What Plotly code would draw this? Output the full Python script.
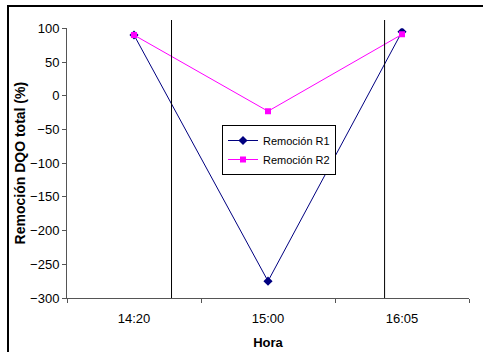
import plotly.graph_objects as go

# Sampling times and DQO removal (%) for each reactor
horas = ["14:20", "15:00", "16:05"]
remocion_r1 = [90, -275, 95]
remocion_r2 = [90, -23, 91]

# Positions (in category units) of the vertical separator lines
separadores = [0.28, 1.87]

# y-axis scale
y_min, y_max = -300, 100
y_ticks = [-300, -250, -200, -150, -100, -50, 0, 50, 100]

W, H = 483, 352
m_l, m_r, m_t, m_b = 67, 14, 20, 54
plot_h = H - m_t - m_b
dom_top = (plot_h - 8.3) / plot_h          # main y axis stops below the top of the frame
y2_top = y_min + (y_max - y_min) / dom_top  # helper axis spans the full height

fig = go.Figure()

fig.add_trace(go.Scatter(
    x=horas, y=remocion_r1, name="Remoción R1", mode="lines+markers",
    line=dict(color="#000080", width=1),
    marker=dict(symbol="diamond", size=7, color="#000080"),
    xaxis="x", yaxis="y",
))
fig.add_trace(go.Scatter(
    x=horas, y=remocion_r2, name="Remoción R2", mode="lines+markers",
    line=dict(color="#FF00FF", width=1),
    marker=dict(symbol="square", size=6, color="#FF00FF"),
    xaxis="x", yaxis="y",
))

# Vertical separators drawn on a full-height helper subplot
sep_x, sep_y = [], []
for s in separadores:
    sep_x += [s, s, None]
    sep_y += [y_min, y2_top, None]
fig.add_trace(go.Scatter(
    x=sep_x, y=sep_y, mode="lines", showlegend=False, hoverinfo="skip",
    line=dict(color="black", width=1),
    xaxis="x2", yaxis="y2",
))

font = dict(family="Arial, Liberation Sans, sans-serif", size=13, color="black")

fig.update_layout(
    width=W, height=H,
    margin=dict(l=m_l, r=m_r, t=m_t, b=m_b),
    paper_bgcolor="white",
    plot_bgcolor="rgba(0,0,0,0)",
    font=font,
    showlegend=True,
    legend=dict(
        x=(222 - m_l) / (W - m_l - m_r), y=(H - m_b - 125) / plot_h,
        xanchor="left", yanchor="top",
        bgcolor="white", bordercolor="black", borderwidth=1,
        font=dict(size=11), itemwidth=30,
        tracegroupgap=0,
    ),
    xaxis=dict(
        type="category", domain=[0, 1], anchor="y",
        range=[-0.5, 2.5], tickson="boundaries",
        ticks="outside", ticklen=4, tickcolor="#555555",
        showline=True, linecolor="#555555", linewidth=1,
        showgrid=False, zeroline=False, automargin=False,
        ticklabelstandoff=8,
        title=dict(text="<b>Hora</b>", font=dict(size=13), standoff=13),
    ),
    yaxis=dict(
        domain=[0, dom_top], anchor="x",
        range=[y_min, y_max], tickvals=y_ticks,
        ticks="outside", ticklen=4, tickcolor="#555555",
        showline=True, linecolor="#555555", linewidth=1,
        showgrid=False, zeroline=False, automargin=False,
        title=dict(text="<b>Remoción DQO total (%)</b>", font=dict(size=14), standoff=1),
    ),
    xaxis2=dict(
        domain=[0, 1], anchor="y2", range=[-0.5, 2.5],
        visible=False, showgrid=False, zeroline=False,
    ),
    yaxis2=dict(
        domain=[0, 1], anchor="x2", range=[y_min, y2_top],
        visible=False, showgrid=False, zeroline=False,
    ),
)

# Outer frame of the chart area
pw = W - m_l - m_r
fig.add_shape(
    type="rect", xref="paper", yref="paper",
    x0=(8 - m_l) / pw, x1=1.2,
    y0=-0.4, y1=(H - m_b - 6) / plot_h,
    line=dict(color="black", width=2), fillcolor="rgba(0,0,0,0)",
    layer="below",
)

fig.write_html("out.html")
